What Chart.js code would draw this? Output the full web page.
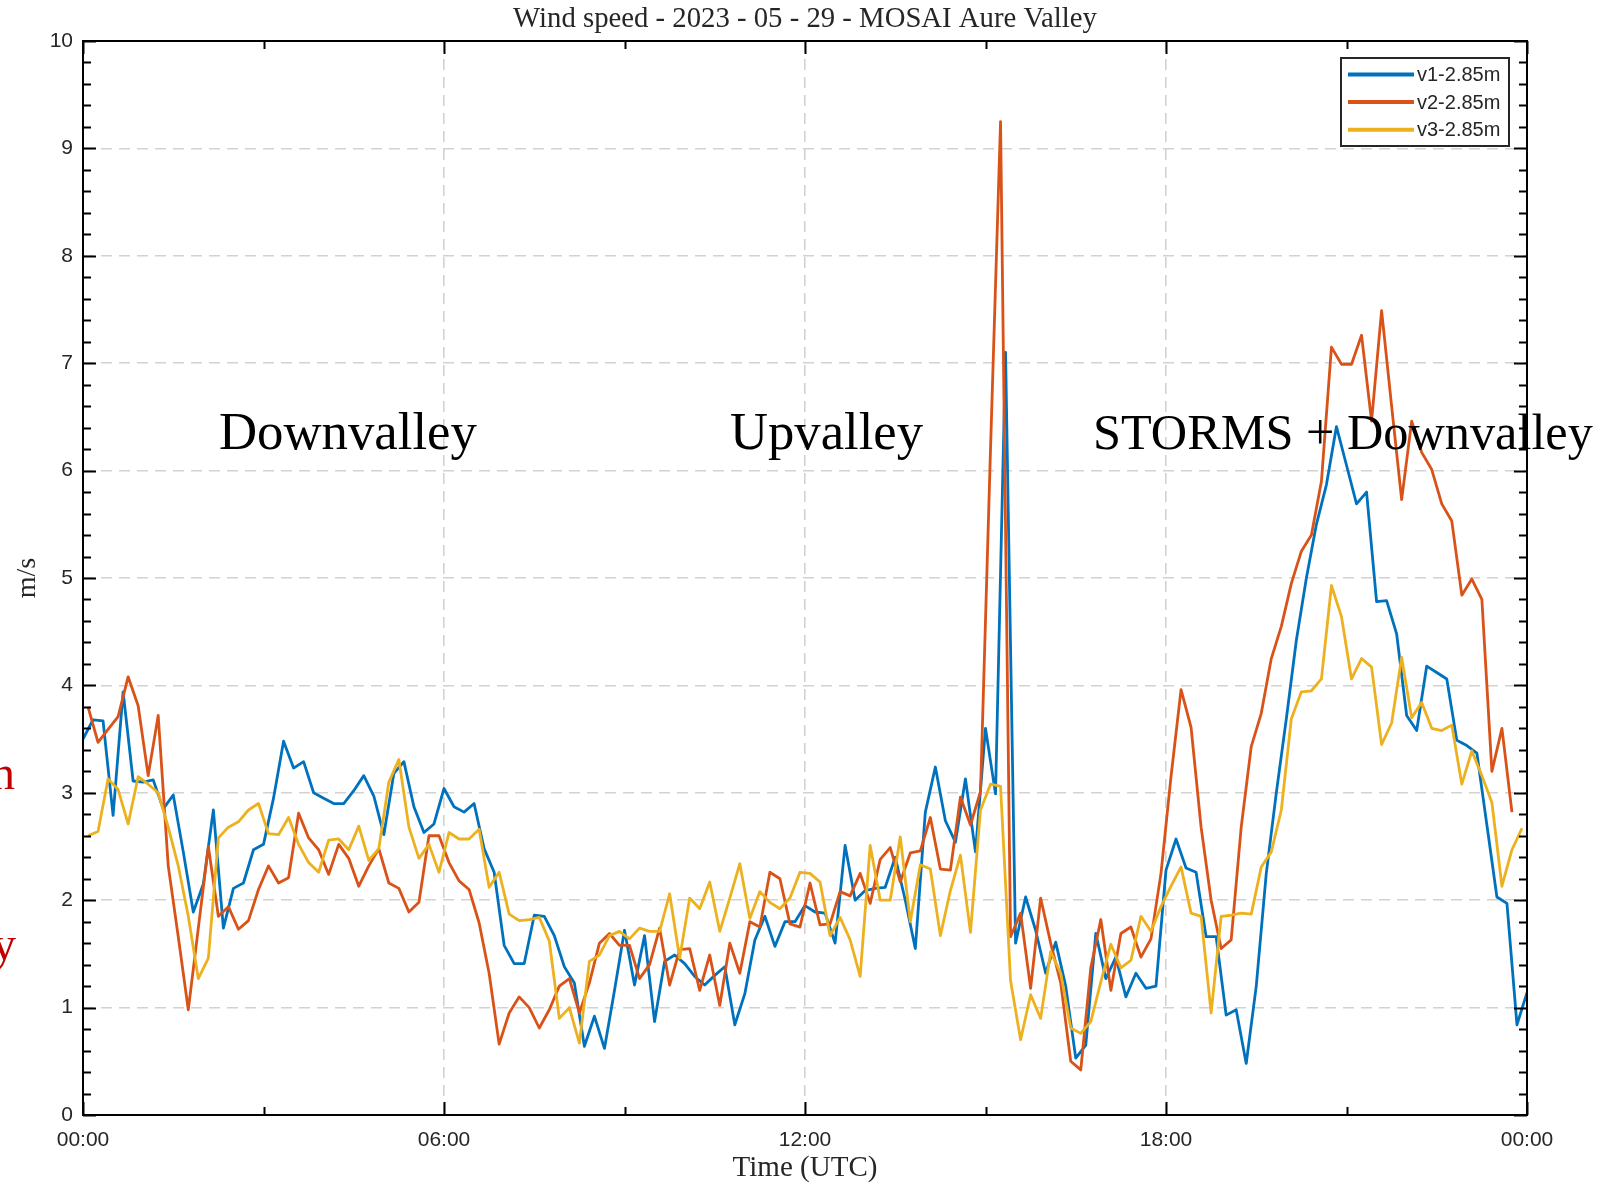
<!DOCTYPE html>
<html lang="en">
<head>
  <meta charset="UTF-8">
  <title>Wind speed - 2023 - 05 - 29 - MOSAI Aure Valley</title>
  <script src="https://cdn.jsdelivr.net/npm/chart.js@4.4.0/dist/chart.umd.min.js"></script>
  <style>
    body { margin: 0; background: #fff; }
    canvas { display: block; }
  </style>
</head>
<body>
  <canvas id="windChart" width="1604" height="1183"></canvas>

  <script>
    // 10-minute samples; v1 starts at 00:00, v2/v3 at 00:05
    const stepMin = 10;
    const startV1 = 0;
    const startV23 = 5;

    const seriesNames = ['v1-2.85m', 'v2-2.85m', 'v3-2.85m'];
    const seriesColors = ['#0072BD', '#D95319', '#EDB120'];
    const regimeLabels = ['Downvalley', 'Upvalley', 'STORMS + Downvalley'];
    const sideFragments = ['n', 'y'];

    const v1 = [
      3.50, 3.68, 3.67, 2.79, 3.94, 3.11, 3.10, 3.12, 2.85, 2.98,
      2.45, 1.89, 2.15, 2.84, 1.74, 2.11, 2.16, 2.47, 2.52, 2.95,
      3.48, 3.23, 3.29, 3.00, 2.95, 2.90, 2.90, 3.02, 3.16, 2.97,
      2.61, 3.18, 3.29, 2.87, 2.63, 2.71, 3.04, 2.87, 2.82, 2.90,
      2.48, 2.26, 1.58, 1.41, 1.41, 1.86, 1.85, 1.67, 1.38, 1.23,
      0.64, 0.92, 0.62, 1.16, 1.72, 1.21, 1.67, 0.87, 1.43, 1.49,
      1.41, 1.29, 1.21, 1.30, 1.38, 0.84, 1.13, 1.63, 1.85, 1.57,
      1.80, 1.80, 1.95, 1.89, 1.88, 1.60, 2.51, 2.00, 2.09, 2.11,
      2.12, 2.40, 2.00, 1.55, 2.82, 3.24, 2.74, 2.54, 3.13, 2.45,
      3.60, 2.99, 7.10, 1.60, 2.03, 1.72, 1.32, 1.61, 1.20, 0.53,
      0.65, 1.69, 1.27, 1.47, 1.10, 1.32, 1.18, 1.20, 2.28, 2.57,
      2.30, 2.26, 1.66, 1.66, 0.93, 0.98, 0.48, 1.20, 2.25, 3.00,
      3.69, 4.42, 5.00, 5.50, 5.87, 6.41, 6.05, 5.69, 5.80, 4.78,
      4.79, 4.48, 3.72, 3.58, 4.18, 4.12, 4.06, 3.49, 3.44, 3.37,
      2.70, 2.03, 1.97, 0.84, 1.14
    ];

    const v2 = [
      3.80, 3.47, 3.59, 3.71, 4.08, 3.81, 3.16, 3.72, 2.32, 1.66,
      0.98, 1.74, 2.50, 1.85, 1.94, 1.73, 1.81, 2.10, 2.32, 2.16,
      2.21, 2.81, 2.58, 2.47, 2.24, 2.52, 2.39, 2.13, 2.32, 2.48,
      2.16, 2.11, 1.89, 1.98, 2.60, 2.60, 2.35, 2.18, 2.10, 1.79,
      1.32, 0.66, 0.95, 1.10, 1.00, 0.81, 0.98, 1.20, 1.27, 0.95,
      1.23, 1.60, 1.69, 1.58, 1.58, 1.27, 1.40, 1.74, 1.21, 1.54,
      1.55, 1.16, 1.49, 1.02, 1.60, 1.32, 1.80, 1.75, 2.26, 2.20,
      1.78, 1.75, 2.16, 1.77, 1.78, 2.08, 2.04, 2.25, 1.97, 2.38,
      2.49, 2.17, 2.44, 2.46, 2.77, 2.29, 2.28, 2.96, 2.70, 3.01,
      6.20, 9.25, 1.66, 1.88, 1.18, 2.02, 1.60, 1.23, 0.50, 0.42,
      1.37, 1.82, 1.16, 1.69, 1.75, 1.47, 1.64, 2.25, 3.15, 3.96,
      3.61, 2.68, 2.00, 1.55, 1.63, 2.68, 3.43, 3.74, 4.25, 4.55,
      4.95, 5.25, 5.40, 5.90, 7.15, 6.99, 6.99, 7.26, 6.46, 7.49,
      6.60, 5.73, 6.46, 6.17, 6.01, 5.69, 5.53, 4.84, 4.99, 4.80,
      3.20, 3.60, 2.82
    ];

    const v3 = [
      2.60, 2.64, 3.13, 3.03, 2.71, 3.15, 3.08, 3.00, 2.68, 2.32,
      1.85, 1.27, 1.46, 2.58, 2.68, 2.73, 2.84, 2.90, 2.62, 2.61,
      2.77, 2.52, 2.35, 2.26, 2.56, 2.57, 2.47, 2.69, 2.37, 2.48,
      3.10, 3.31, 2.68, 2.39, 2.52, 2.26, 2.63, 2.57, 2.57, 2.66,
      2.12, 2.26, 1.87, 1.81, 1.82, 1.84, 1.62, 0.90, 1.00, 0.67,
      1.43, 1.49, 1.67, 1.71, 1.64, 1.74, 1.71, 1.71, 2.06, 1.46,
      2.02, 1.92, 2.17, 1.71, 2.02, 2.34, 1.83, 2.08, 1.98, 1.92,
      2.02, 2.26, 2.25, 2.17, 1.67, 1.84, 1.63, 1.29, 2.51, 2.00,
      2.00, 2.59, 1.80, 2.33, 2.29, 1.67, 2.09, 2.42, 1.70, 2.84,
      3.08, 3.06, 1.25, 0.70, 1.12, 0.90, 1.52, 1.32, 0.81, 0.76,
      0.87, 1.24, 1.59, 1.37, 1.44, 1.85, 1.71, 1.94, 2.13, 2.31,
      1.88, 1.85, 0.95, 1.85, 1.86, 1.88, 1.87, 2.31, 2.45, 2.84,
      3.69, 3.94, 3.95, 4.06, 4.93, 4.64, 4.06, 4.25, 4.17, 3.45,
      3.65, 4.26, 3.70, 3.84, 3.60, 3.58, 3.63, 3.08, 3.39, 3.16,
      2.91, 2.13, 2.47, 2.67
    ];

    function toPoints(values, start) {
      return values.map((v, i) => ({ x: start + i * stepMin, y: v }));
    }

    function fitFont(ctx, text, family, width) {
      ctx.font = '100px ' + family;
      return 100 * width / ctx.measureText(text).width;
    }

    function hhmm(min) {
      return String(Math.round(min / 60) % 24).padStart(2, '0') + ':00';
    }

    const serif = '"Liberation Serif", "DejaVu Serif", serif';
    const sans = '"Liberation Sans", Arial, sans-serif';

    // box, inner ticks, titles, labels and legend drawn over the lines
    const overlay = {
      id: 'overlay',
      afterDatasetsDraw(chart) {
        const { ctx, chartArea: a, scales: { x, y } } = chart;
        ctx.save();

        ctx.strokeStyle = '#000';
        ctx.lineWidth = 2;
        ctx.strokeRect(a.left, a.top, a.right - a.left, a.bottom - a.top);

        ctx.beginPath();
        for (let i = 0; i <= 50; i++) {
          const py = Math.round(y.getPixelForValue(i / 5)) + 0.5;
          const len = i % 5 === 0 ? 13 : 8;
          ctx.moveTo(a.left, py); ctx.lineTo(a.left + len, py);
          ctx.moveTo(a.right, py); ctx.lineTo(a.right - len, py);
        }
        for (let m = 0; m <= 1440; m += 180) {
          const px = Math.round(x.getPixelForValue(m)) + 0.5;
          const len = m % 360 === 0 ? 13 : 8;
          ctx.moveTo(px, a.bottom); ctx.lineTo(px, a.bottom - len);
          ctx.moveTo(px, a.top); ctx.lineTo(px, a.top + len);
        }
        ctx.stroke();

        // title and axis titles
        ctx.fillStyle = '#262626';
        ctx.textAlign = 'center';
        ctx.textBaseline = 'middle';
        const title = 'Wind speed - 2023 - 05 - 29 - MOSAI Aure Valley';
        let size = fitFont(ctx, title, serif, 584);
        ctx.font = size + 'px ' + serif;
        ctx.fillText(title, (a.left + a.right) / 2, 19);

        size = fitFont(ctx, 'Time (UTC)', serif, 145);
        ctx.font = size + 'px ' + serif;
        ctx.fillText('Time (UTC)', (a.left + a.right) / 2, 1168);

        ctx.save();
        ctx.translate(28, 578);
        ctx.rotate(-Math.PI / 2);
        ctx.font = '28px ' + serif;
        ctx.fillText('m/s', 0, 0);
        ctx.restore();

        // regime labels
        ctx.fillStyle = '#000';
        ctx.textAlign = 'left';
        ctx.textBaseline = 'alphabetic';
        const regimeLeft = [219, 730, 1093];
        const regimeWidth = [258, 193, 500];
        regimeLabels.forEach((t, i) => {
          const s = fitFont(ctx, t, serif, regimeWidth[i]);
          ctx.font = s + 'px ' + serif;
          ctx.fillText(t, regimeLeft[i], 449);
        });

        // cut-off words from the neighbouring slide
        ctx.fillStyle = '#C00000';
        ctx.textAlign = 'right';
        ctx.font = '48px ' + serif;
        ctx.fillText(sideFragments[0], 15, 789);
        ctx.fillText(sideFragments[1], 16, 960);

        // legend
        const lx = 1341, ly = 58, lw = 168, lh = 88;
        ctx.fillStyle = '#fff';
        ctx.fillRect(lx, ly, lw, lh);
        ctx.strokeStyle = '#262626';
        ctx.lineWidth = 2;
        ctx.strokeRect(lx, ly, lw, lh);
        ctx.font = '20px ' + sans;
        ctx.textAlign = 'left';
        ctx.textBaseline = 'middle';
        chart.data.datasets.forEach((ds, i) => {
          const ry = 74.5 + i * 27.6;
          ctx.strokeStyle = ds.borderColor;
          ctx.lineWidth = 4;
          ctx.beginPath();
          ctx.moveTo(lx + 7, ry); ctx.lineTo(lx + 73, ry);
          ctx.stroke();
          ctx.fillStyle = '#262626';
          ctx.fillText(ds.label, lx + 76, ry + 1);
        });

        ctx.restore();
      }
    };

    const gridColor = '#d2d2d2';

    new Chart(document.getElementById('windChart').getContext('2d'), {
      type: 'line',
      data: {
        datasets: [
          { label: seriesNames[0], data: toPoints(v1, startV1), borderColor: seriesColors[0], order: 2 },
          { label: seriesNames[1], data: toPoints(v2, startV23), borderColor: seriesColors[1], order: 1 },
          { label: seriesNames[2], data: toPoints(v3, startV23), borderColor: seriesColors[2], order: 0 }
        ]
      },
      options: {
        responsive: false,
        animation: false,
        devicePixelRatio: 1,
        layout: { padding: { left: 0, top: 41, right: 77, bottom: 0 } },
        elements: {
          line: { borderWidth: 2.8, tension: 0, fill: false, borderJoinStyle: 'round' },
          point: { radius: 0 }
        },
        plugins: { legend: { display: false }, title: { display: false }, tooltip: { enabled: false } },
        scales: {
          x: {
            type: 'linear',
            min: 0,
            max: 1440,
            afterFit: s => { s.height = 68; },
            ticks: {
              stepSize: 360,
              autoSkip: false,
              maxRotation: 0,
              padding: 13,
              color: '#262626',
              font: { family: sans, size: 21 },
              callback: v => hhmm(v)
            },
            grid: {
              drawTicks: false,
              lineWidth: 1.6,
              color: c => (c.tick && c.tick.value > 0 && c.tick.value < 1440) ? gridColor : 'rgba(0,0,0,0)'
            },
            border: { display: false, dash: [11, 7] }
          },
          y: {
            min: 0,
            max: 10,
            afterFit: s => { s.width = 83; },
            ticks: {
              stepSize: 1,
              padding: 10,
              color: '#262626',
              font: { family: sans, size: 21 }
            },
            grid: {
              drawTicks: false,
              lineWidth: 1.6,
              color: c => (c.tick && c.tick.value > 0 && c.tick.value < 10) ? gridColor : 'rgba(0,0,0,0)'
            },
            border: { display: false, dash: [11, 7] }
          }
        }
      },
      plugins: [overlay]
    });
  </script>
</body>
</html>
